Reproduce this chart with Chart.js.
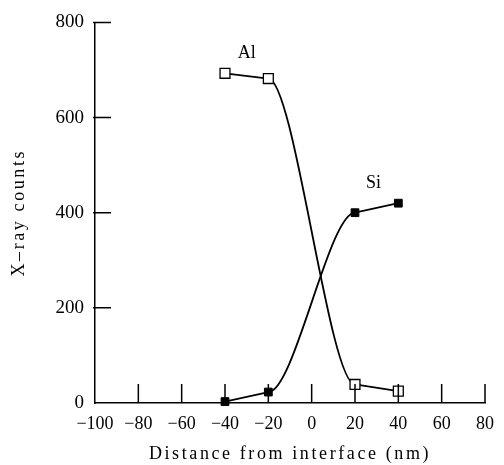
<!DOCTYPE html>
<html>
<head>
<meta charset="utf-8">
<script src="https://cdn.jsdelivr.net/npm/chart.js@4.4.1/dist/chart.umd.min.js"></script>
<style>
  html, body { margin: 0; padding: 0; background: #fff; }
  #wrap { width: 504px; height: 465px; }
</style>
</head>
<body>
<div id="wrap"><canvas id="profile"></canvas></div>
<script>
// values
const distances = [-40, -20, 20, 40];
const alCounts = [693, 682, 39, 25];
const siCounts = [3, 23, 400, 420];
const xTicks = [-100, -80, -60, -40, -20, 0, 20, 40, 60, 80];
const yTicks = [0, 200, 400, 600, 800];

const serif = 'Liberation Serif';
const profile = document.getElementById('profile');

function toPoints(values) {
    return distances.map((d, i) => ({ x: d, y: values[i] }));
}

// straight segments, but an S-shaped bezier across the interface
const interfaceCurve = {
    id: 'interfaceCurve',
    beforeDatasetDraw(chart, args) {
        const meta = chart.getDatasetMeta(args.index);
        meta.dataset.updateControlPoints(chart.chartArea);
        const pts = meta.data;
        for (let i = 0; i < pts.length; i++) {
            pts[i].cp1x = pts[i].x; pts[i].cp1y = pts[i].y;
            pts[i].cp2x = pts[i].x; pts[i].cp2y = pts[i].y;
        }
        const a = pts[1], b = pts[2];
        const k = 0.3 * (b.x - a.x);
        a.cp2x = a.x + k; a.cp2y = a.y;
        b.cp1x = b.x - k; b.cp1y = b.y;
    }
};

// tick marks pointing into the plot, plus the Al / Si labels
const innerTicks = {
    id: 'innerTicks',
    afterDraw(chart) {
        const ctx = chart.ctx;
        const x = chart.scales.x, y = chart.scales.y;
        const area = chart.chartArea;
        ctx.save();
        ctx.strokeStyle = '#000';
        ctx.lineWidth = 1.5;
        ctx.beginPath();
        yTicks.forEach(v => {
            if (v === 0) return;
            const py = y.getPixelForValue(v);
            ctx.moveTo(area.left - 2, py);
            ctx.lineTo(area.left + 16, py);
        });
        xTicks.forEach(v => {
            if (v === -100) return;
            const px = x.getPixelForValue(v);
            ctx.moveTo(px, area.bottom);
            ctx.lineTo(px, area.bottom - 19);
        });
        ctx.stroke();

        ctx.fillStyle = '#000';
        ctx.font = '18px "' + serif + '"';
        ctx.textAlign = 'center';
        ctx.textBaseline = 'middle';
        ctx.fillText('Al', x.getPixelForValue(-30), y.getPixelForValue(736));
        ctx.fillText('Si', x.getPixelForValue(28.5), y.getPixelForValue(461));
        ctx.restore();
    }
};

// the axis titles in the figure are letter-spaced
const spacedTitles = {
    id: 'spacedTitles',
    afterUpdate(chart) {
        ['x', 'y'].forEach(id => {
            const s = chart.scales[id];
            if (s._spaced) return;
            const orig = s.drawTitle.bind(s);
            s.drawTitle = function () {
                chart.ctx.save();
                chart.ctx.letterSpacing = '2.6px';
                orig();
                chart.ctx.restore();
            };
            s._spaced = true;
        });
    }
};

function minus(v) {
    return v < 0 ? '\u2212' + Math.abs(v) : String(v);
}

new Chart(profile, {
    type: 'line',
    data: {
        datasets: [{
            label: 'Al',
            data: toPoints(alCounts),
            borderColor: '#000',
            borderWidth: 1.8,
            cubicInterpolationMode: 'monotone',
            pointStyle: 'rect',
            pointRadius: 7,
            pointBackgroundColor: '#fff',
            pointBorderColor: '#000',
            pointBorderWidth: 1.3,
            clip: false
        }, {
            label: 'Si',
            data: toPoints(siCounts),
            borderColor: '#000',
            borderWidth: 1.8,
            cubicInterpolationMode: 'monotone',
            pointStyle: 'rect',
            pointRadius: 5.5,
            pointBackgroundColor: '#000',
            pointBorderColor: '#000',
            pointBorderWidth: 1,
            clip: false
        }]
    },
    options: {
        responsive: true,
        maintainAspectRatio: false,
        animation: false,
        layout: { padding: { top: 16, right: 10, left: 0, bottom: 0 } },
        plugins: {
            legend: { display: false },
            tooltip: { enabled: false }
        },
        scales: {
            x: {
                type: 'linear',
                min: -100,
                max: 80,
                afterFit: scale => { scale.height = 62; },
                afterBuildTicks: scale => { scale.ticks = xTicks.map(v => ({ value: v })); },
                grid: { display: false, drawTicks: false },
                border: { display: true, color: '#000', width: 1.5 },
                ticks: {
                    color: '#000',
                    padding: 10,
                    maxRotation: 0,
                    autoSkip: false,
                    font: { family: serif, size: 18 },
                    callback: v => minus(v)
                },
                title: {
                    display: true,
                    text: 'Distance from interface (nm)',
                    color: '#000',
                    padding: { top: 0, bottom: 0 },
                    font: { family: serif, size: 18 }
                }
            },
            y: {
                type: 'linear',
                min: 0,
                max: 800,
                afterFit: scale => { scale.width = 95; },
                afterBuildTicks: scale => { scale.ticks = yTicks.map(v => ({ value: v })); },
                grid: { display: false, drawTicks: false },
                border: { display: true, color: '#000', width: 1.5 },
                ticks: {
                    color: '#000',
                    padding: 11,
                    autoSkip: false,
                    font: { family: serif, size: 19 },
                    callback: v => minus(v)
                },
                title: {
                    display: true,
                    text: 'X\u2013ray counts',
                    color: '#000',
                    padding: { top: 8, bottom: 0 },
                    font: { family: serif, size: 18 }
                }
            }
        }
    },
    plugins: [interfaceCurve, innerTicks, spacedTitles]
});
</script>
</body>
</html>
